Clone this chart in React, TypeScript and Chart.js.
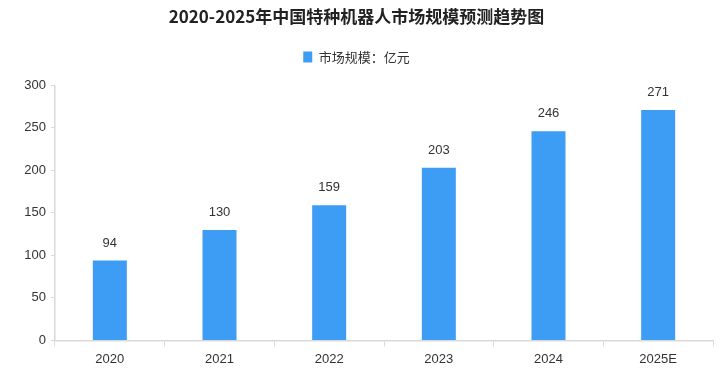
import React, { useEffect, useRef } from "react";
import { Chart, registerables } from "chart.js";

Chart.register(...registerables);

const title = "2020-2025年中国特种机器人市场规模预测趋势图";
const seriesName = "市场规模：亿元";
const categories = ["2020", "2021", "2022", "2023", "2024", "2025E"];
const values = [94, 130, 159, 203, 246, 271];
const yTicks = { min: 0, max: 300, step: 50 };

const barColor = "#3d9cf3";
const axisColor = "#d9d9d9";
const textColor = "#333333";

const valueLabels = {
  id: "valueLabels",
  afterDatasetsDraw(chart: any) {
    const ctx = chart.ctx;
    const meta = chart.getDatasetMeta(0);
    ctx.save();
    ctx.fillStyle = textColor;
    ctx.font = "13px 'Liberation Sans', sans-serif";
    ctx.textAlign = "center";
    ctx.textBaseline = "bottom";
    meta.data.forEach((el: any, i: number) => {
      ctx.fillText(String(values[i]), el.x, el.y - 11);
    });
    ctx.restore();
  },
};

const legendGap = {
  id: "legendGap",
  beforeLayout(chart: any) {
    const lg = chart.legend;
    if (lg && !lg._gapPatched) {
      const orig = lg.fit.bind(lg);
      lg.fit = function () {
        orig();
        this.height += 12;
      };
      lg._gapPatched = true;
    }
  },
};

export default function App() {
  const ref = useRef<HTMLCanvasElement>(null);
  useEffect(() => {
    if (!ref.current) return;
    const chart = new Chart(ref.current, {
      type: "bar",
      data: {
        labels: categories,
        datasets: [
          {
            label: seriesName,
            data: values,
            backgroundColor: barColor,
            borderWidth: 0,
            barPercentage: 0.31,
            categoryPercentage: 1,
          },
        ],
      },
      options: {
        animation: false,
        responsive: false,
        maintainAspectRatio: false,
        layout: { padding: { left: 0, right: 7, top: 4, bottom: 12 } },
        plugins: {
          title: {
            display: true,
            text: title,
            color: "#222",
            font: { family: "'Noto Sans CJK SC', sans-serif", size: 17, weight: "bold" },
            padding: { top: 2, bottom: 14 },
          },
          legend: {
            display: true,
            labels: {
              color: textColor,
              boxWidth: 9,
              boxHeight: 11,
              font: { family: "'Noto Sans CJK SC', sans-serif", size: 13 },
              padding: 10,
            },
          },
          tooltip: { enabled: false },
        },
        scales: {
          x: {
            grid: {
              display: true,
              drawOnChartArea: false,
              offset: true,
              tickLength: 6,
              color: axisColor,
            },
            border: { color: axisColor, width: 1.5 },
            ticks: {
              color: textColor,
              font: { family: "'Liberation Sans', sans-serif", size: 13 },
              padding: 5,
            },
          },
          y: {
            min: yTicks.min,
            max: yTicks.max,
            afterFit: (s: any) => {
              s.width = 55;
            },
            grid: {
              display: true,
              drawOnChartArea: false,
              tickLength: 4,
              color: axisColor,
            },
            border: { color: axisColor, width: 1.5 },
            ticks: {
              stepSize: yTicks.step,
              color: textColor,
              font: { family: "'Liberation Sans', sans-serif", size: 13 },
              padding: 5,
            },
          },
        },
      },
      plugins: [legendGap, valueLabels],
    });
    return () => chart.destroy();
  }, []);
  return (
    <div style={{ position: "fixed", left: 0, top: 0, width: 720, height: 384, background: "#fff" }}>
      <canvas ref={ref} width={720} height={384} style={{ width: 720, height: 384 }} />
    </div>
  );
}
